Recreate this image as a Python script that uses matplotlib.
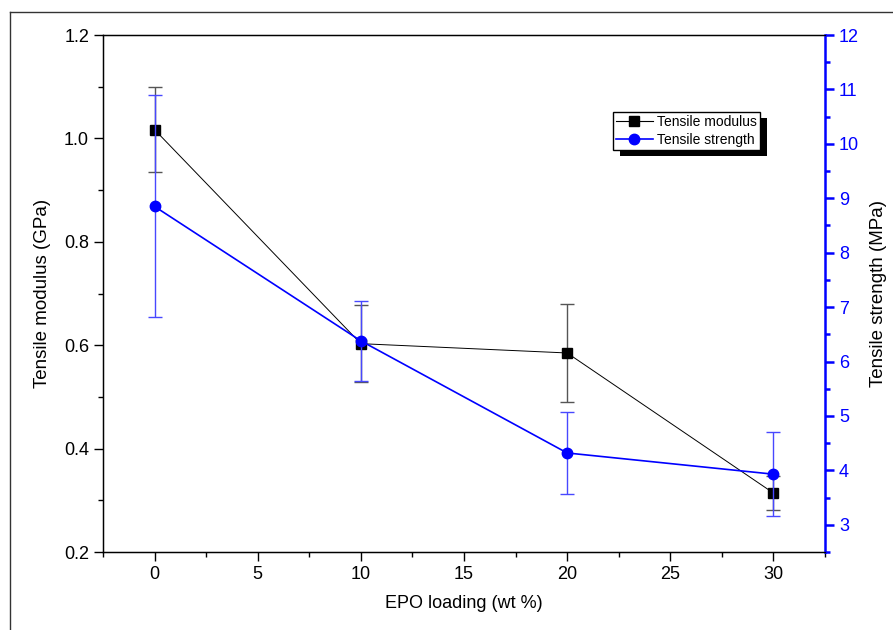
import matplotlib
matplotlib.use('Agg')
import matplotlib.pyplot as plt
from matplotlib.ticker import MultipleLocator
from matplotlib.lines import Line2D
from matplotlib.patches import Rectangle

plt.rcParams['font.family'] = ['Liberation Sans', 'DejaVu Sans']

# EPO loading (wt %)
loading = [0, 10, 20, 30]
# tensile modulus (GPa) and its spread
modulus = [1.017, 0.603, 0.585, 0.314]
modulus_err = [0.082, 0.075, 0.094, 0.033]
# tensile strength (MPa) and its spread
strength = [8.85, 6.38, 4.32, 3.93]
strength_err = [2.04, 0.73, 0.75, 0.77]

fig = plt.figure(figsize=(8.93, 6.3), dpi=100)
ax = fig.add_axes([0.1153, 0.1238, 0.8086, 0.8206])
ax2 = ax.twinx()

ax.errorbar(loading, modulus, yerr=modulus_err, color='black', lw=0.7,
            marker='s', ms=6.5, ecolor='#555555', elinewidth=1.0,
            capsize=5, capthick=1.0)
ax2.errorbar(loading, strength, yerr=strength_err, color='#0000ff', lw=1.2,
             marker='o', ms=7.5, ecolor='#4848ff', elinewidth=1.0,
             capsize=5, capthick=1.0)

ax.set_xlim(-2.5, 32.5)
ax.set_ylim(0.2, 1.2)
ax2.set_ylim(2.5, 12)

ax.xaxis.set_major_locator(MultipleLocator(5))
ax.xaxis.set_minor_locator(MultipleLocator(2.5))
ax.yaxis.set_major_locator(MultipleLocator(0.2))
ax.yaxis.set_minor_locator(MultipleLocator(0.1))
ax.yaxis.set_major_formatter(plt.FormatStrFormatter('%.1f'))
ax2.yaxis.set_major_locator(MultipleLocator(1))
ax2.yaxis.set_minor_locator(MultipleLocator(0.5))

ax.tick_params(which='both', direction='out', labelsize=13, width=1, top=False)
ax.tick_params(which='major', length=6.5)
ax.tick_params(which='minor', length=3.5)
ax2.tick_params(which='both', direction='out', colors='#0000ff', labelsize=13, width=1.8)
ax2.tick_params(which='major', length=6.5)
ax2.tick_params(which='minor', length=3.5)

for s in ['left', 'bottom', 'top']:
    ax.spines[s].set_linewidth(1.0)
ax2.spines['right'].set_color('#0000ff')
ax2.spines['right'].set_linewidth(1.8)
ax.spines['right'].set_visible(False)

ax.set_xlabel('EPO loading (wt %)', fontsize=13, labelpad=9)
ax.set_ylabel('Tensile modulus (GPa)', fontsize=13.5, labelpad=9)
ax2.set_ylabel('Tensile strength (MPa)', fontsize=13.5, labelpad=8)

# legend shows line + marker only
handles = [Line2D([], [], color='black', lw=0.8, marker='s', ms=6.5),
           Line2D([], [], color='#0000ff', lw=1.2, marker='o', ms=7.5)]
labels = ['Tensile modulus', 'Tensile strength']
leg = ax2.legend(handles, labels, loc='upper left', bbox_to_anchor=(0.706, 0.851),
                 borderaxespad=0, fontsize=10, frameon=True, fancybox=False,
                 edgecolor='black', framealpha=1, handlelength=2.7,
                 handletextpad=0.3, labelspacing=0.3, borderpad=0.2)
leg.get_frame().set_linewidth(1.0)
leg.set_zorder(6)

# solid drop shadow behind the legend box
fig.canvas.draw()
bb = leg.get_window_extent()
ax2.add_patch(Rectangle((bb.x0 + 7, bb.y0 - 6), bb.width, bb.height,
                        transform=None, facecolor='black', edgecolor='none',
                        zorder=5, clip_on=False))

# outer frame line
fig.add_artist(Line2D([10 / 893, 10 / 893], [0, 1 - 12 / 630], color='#333333', lw=1.0))
fig.add_artist(Line2D([10 / 893, 1], [1 - 12 / 630, 1 - 12 / 630], color='#333333', lw=1.0))

fig.savefig('out.png', dpi=100)
